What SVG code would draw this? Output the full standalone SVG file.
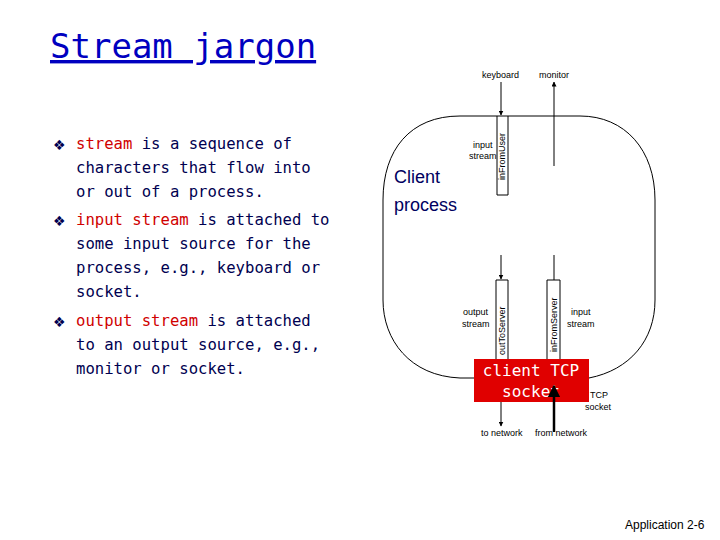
<svg xmlns="http://www.w3.org/2000/svg" width="720" height="540" viewBox="0 0 720 540">
<style>
.b{font-family:"DejaVu Sans Mono",monospace;font-size:15.6px;fill:#000050}
.r{fill:#d00000}
.s{font-family:"Liberation Sans",Arial,sans-serif;font-size:9px;fill:#000}
.l{stroke:#000;stroke-width:1;fill:none}
</style>
<defs><marker id="a" viewBox="0 0 10 10" refX="9" refY="5" markerWidth="5" markerHeight="5" orient="auto"><path d="M0,0L10,5L0,10z" fill="#000"/></marker></defs>
<rect width="720" height="540" fill="#fff"/>
<text x="50" y="58" font-family="DejaVu Sans Mono,monospace" font-size="34" fill="#0000c0" text-decoration="underline">Stream jargon</text>
<g font-family="DejaVu Sans" font-size="14" fill="#000050"><text x="53" y="150">❖</text><text x="53" y="226">❖</text><text x="53" y="327">❖</text></g>
<text class="b"><tspan x="76" y="149"><tspan class="r">stream</tspan> is a sequence of</tspan><tspan x="76" y="173">characters that flow into</tspan><tspan x="76" y="197">or out of a process.</tspan><tspan x="76" y="225"><tspan class="r">input stream</tspan> is attached to</tspan><tspan x="76" y="249">some input source for the</tspan><tspan x="76" y="273">process, e.g., keyboard or</tspan><tspan x="76" y="297">socket.</tspan><tspan x="76" y="326"><tspan class="r">output stream</tspan> is attached</tspan><tspan x="76" y="350">to an output source, e.g.,</tspan><tspan x="76" y="374">monitor or socket.</tspan></text>
<g id="process"><path class="l" d="M474,378 L460,378 C410,376 383,340 383,300 L383,200 C383,150 410,116 460,116 L580,116 C625,116 655,150 655,200 L655,300 C655,340 630,370 589,378"/>
<text x="394" y="183" font-family="Liberation Sans,Arial,sans-serif" font-size="18" fill="#000060">Client</text><text x="394" y="211" font-family="Liberation Sans,Arial,sans-serif" font-size="18" fill="#000060">process</text></g>
<g id="inFromUser"><path class="l" stroke="#888" d="M497,116V195H508V116"/><text class="s" transform="translate(505,180) rotate(-90)">inFromUser</text><text class="s" x="473" y="148">input</text><text class="s" x="469" y="159">stream</text></g>
<g id="outToServer"><path class="l" stroke="#888" d="M496,359V280H508V359"/><text class="s" transform="translate(505,355) rotate(-90)">outToServer</text><text class="s" x="463" y="315">output</text><text class="s" x="462" y="327">stream</text></g>
<g id="inFromServer"><path class="l" stroke="#888" d="M547,359V280H560V359"/><text class="s" transform="translate(557,352) rotate(-90)">inFromServer</text><text class="s" x="571" y="315">input</text><text class="s" x="567" y="327">stream</text></g>
<g id="socket"><rect x="474" y="359" width="115" height="43" fill="#e00000"/><text x="531" y="376" text-anchor="middle" font-family="DejaVu Sans Mono,monospace" font-size="16" fill="#fff">client TCP</text><text x="531" y="397" text-anchor="middle" font-family="DejaVu Sans Mono,monospace" font-size="16" fill="#fff">socket</text><text class="s" x="590" y="398">TCP</text><text class="s" x="585" y="410">socket</text></g>
<g class="s"><text x="482" y="78">keyboard</text><text x="539" y="78">monitor</text><text x="481" y="436">to network</text><text x="535" y="436">from network</text></g>
<g id="connectors" class="l"><line x1="501" y1="82" x2="501" y2="115" marker-end="url(#a)"/><line x1="554" y1="166" x2="554" y2="82" marker-end="url(#a)"/><line x1="501" y1="255" x2="501" y2="279" marker-end="url(#a)"/><line x1="554" y1="280" x2="554" y2="255"/><line x1="501" y1="402" x2="501" y2="426" marker-end="url(#a)"/><line x1="554" y1="432" x2="554" y2="386" stroke-width="2.5" marker-end="url(#a)"/></g>
<text x="625" y="529" font-family="Liberation Sans,Arial,sans-serif" font-size="12">Application 2-6</text>
</svg>
